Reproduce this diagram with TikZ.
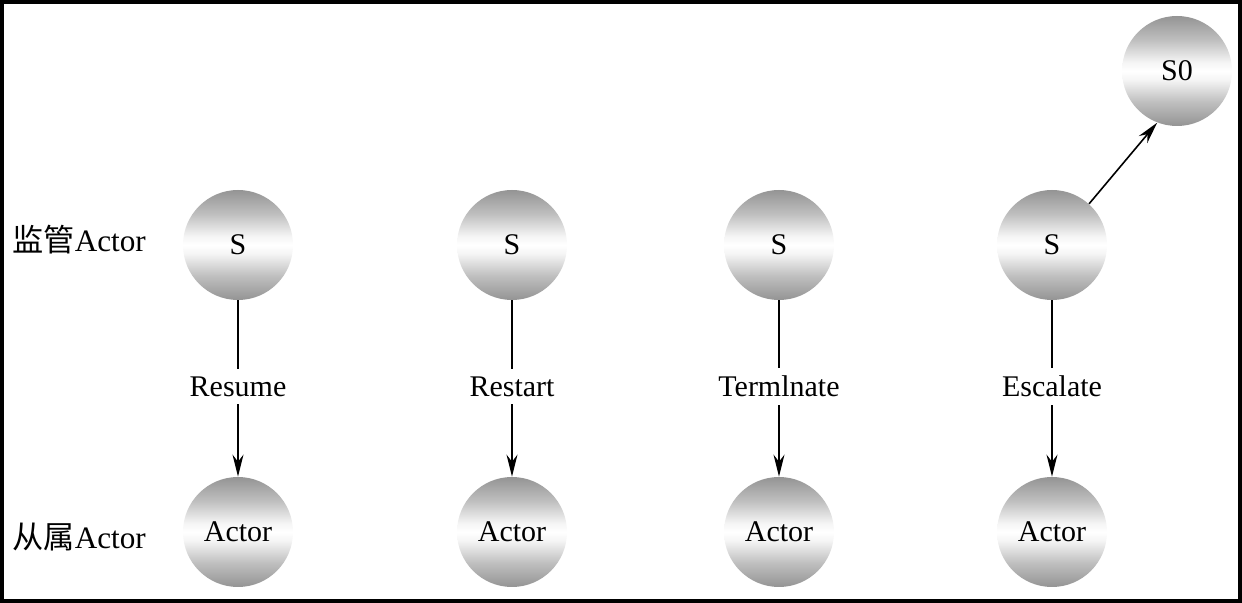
\documentclass[tikz,border=0pt]{standalone}
\usepackage{fontspec}
\setmainfont{Liberation Serif}
\newfontfamily\cjk{Noto Sans CJK SC}
\usetikzlibrary{arrows.meta,shadings}
\pgfdeclareverticalshading{ballshade}{100bp}{
  color(0bp)=(black!42); color(25bp)=(black!42); color(36bp)=(black!25);
  color(46bp)=(black!4); color(50bp)=(white); color(54bp)=(black!4); color(64bp)=(black!25); color(75bp)=(black!42); color(100bp)=(black!42)}
\tikzset{
  ball/.style={circle, minimum size=55pt, inner sep=0pt, shading=ballshade, font=\fontsize{15}{18}\selectfont},
  lbl/.style={fill=white, inner xsep=1.5pt, inner ysep=4pt, font=\fontsize{15}{18}\selectfont},
  side/.style={anchor=west, inner sep=0pt, font=\fontsize{15.6}{18}\selectfont},
  conn/.style={line width=0.8pt, -{Stealth[length=11pt,width=5.5pt]}}
}
\begin{document}
\begin{tikzpicture}[x=0.5pt,y=-0.5pt]
\useasboundingbox (0,0) rectangle (1242,603);
\draw[line width=1.6pt] (2,2) rectangle (1240,601);
\node[side] (sup) at (12,240) {{\cjk 监管}Actor};
\node[side] (sub) at (12,537) {{\cjk 从属}Actor};
\foreach \i/\x/\t in {1/238/Resume,2/512/Restart,3/779/Termlnate,4/1052/Escalate}{
  \node[ball] (s\i) at (\x,245) {S};
  \node[ball] (a\i) at (\x,532) {Actor};
  \draw[conn] (s\i) -- node[lbl, yshift=1pt] {\t} (a\i);
}
\node[ball] (s0) at (1177,71) {S0};
\draw[conn] (s4.48) -- (s0.249);
\end{tikzpicture}
\end{document}
